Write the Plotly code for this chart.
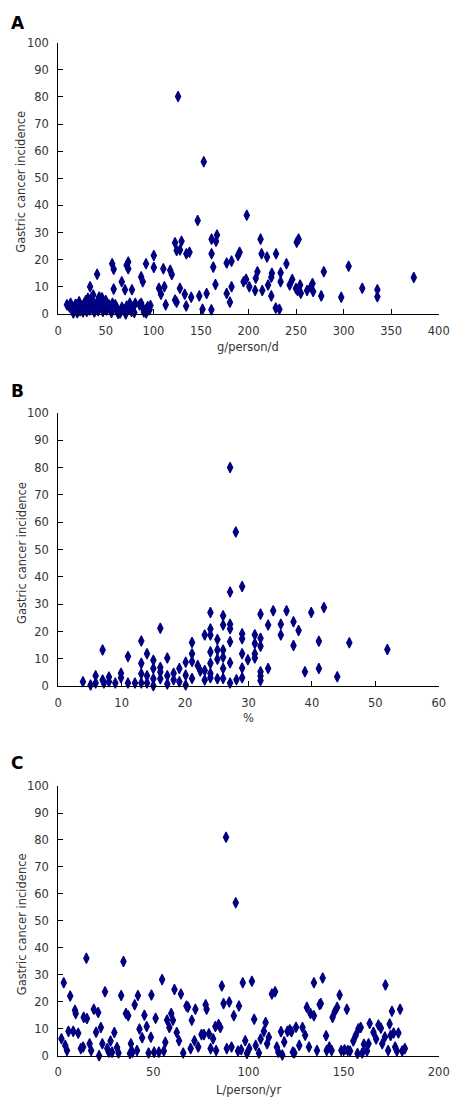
import plotly.graph_objects as go

# ---------------- Data ----------------
# Panel A: x = g/person/d, y = gastric cancer incidence
a_x = [126, 153, 146.6, 198.2,
       122.8, 129.6, 124.5, 128, 134.7, 138,
       161.2, 166.9, 165.9, 161.2, 163, 165.3, 161, 156, 148.3, 151.7, 139.8, 133, 127.9, 124.5, 122.8, 134.5,
       113, 108, 111.6, 105.9, 110.5, 117.7, 119.4, 100.5, 100.5, 92.3, 87.2, 88.9, 92.3, 94, 92.5, 87.2, 85.5,
       77.5, 73.6, 73.6, 71.9, 70.2, 66.8, 58.3, 56.7, 58.3, 40.9, 33.5, 36.8, 43.1,
       177.1, 177.1, 182.2, 182.2, 180.5, 189, 190.7,
       212.7, 213.8, 219.5, 229, 239.9, 250.7, 252.7, 224.6, 224, 233.8, 233.8, 246, 243.3, 209.4, 207.7,
       197.5, 194.8, 200.9, 207, 214.5, 220.6, 224, 228.7, 232.5, 249.9, 254.3, 255, 251.6, 261.6, 265.6,
       267.3, 268, 276.5, 279.2, 297.5, 305.3, 319.6, 335.5, 335.5, 373.8,
       9.2, 14.2, 15.9, 19.3, 24.4, 27.5, 31.2, 38, 44.8, 48.2, 53.3, 55, 61.7, 65.1, 75.3, 77,
       12, 13, 17, 18, 20, 21, 22, 23, 25, 26, 28, 29, 30, 32, 33, 34, 35, 36, 38, 40, 41, 42, 45, 46,
       47, 49, 50, 51, 52, 56, 57, 58, 60, 62, 63, 67, 69, 71, 72, 74, 79, 80, 81, 89, 90, 96, 97]
a_y = [80.1, 56.1, 34.5, 36.4,
       26.3, 26.8, 23.4, 23.6, 22.2, 22.8,
       27.6, 29.1, 26.8, 22.2, 17.3, 10.9, 1.6, 7.6, 6.7, 1.8, 6.2, 7.3, 9.5, 4.4, 5.2, 3,
       3.4, 7.3, 10.1, 9.5, 16.7, 16.1, 14.6, 21.6, 17.2, 18.5, 13.7, 11.9, 1.6, 2.8, 0.4, 4, 3.4,
       9, 19.2, 16.7, 18, 9, 11.9, 9.2, 18.5, 16.5, 14.7, 10.1, 7, 6.3,
       18.8, 7.6, 19.5, 10.1, 4.4, 21.6, 22.8,
       27.6, 22.2, 21.0, 22.2, 18.5, 26.5, 27.6, 15.0, 13.6, 15.2, 11.9, 12.7, 10.7, 15.6, 13.2,
       12.8, 11.9, 10.1, 8.7, 8.7, 10.7, 6.7, 2.2, 1.8, 9.4, 10.7, 7.7, 8.7, 8.7, 10.1,
       11.3, 8.3, 6.7, 15.6, 6.2, 17.6, 9.5, 9, 6.4, 13.5,
       3.4, 2.8, 0.4, 3.4, 2.2, 4, 5.8, 3.4, 4, 2.2, 3.4, 1.6, 2.2, 0.4, 4, 1,
       2.5, 4, 1.5, 3.5, 0.5, 2, 4.5, 1.2, 3, 0.8, 2, 5, 1, 3, 1.5, 4, 6, 2, 0.8, 2.5, 4.5, 1.2, 2.8, 6,
       1, 3.5, 5, 1.5, 2.8, 0.6, 4, 2, 3.4, 1.2, 0.2, 2.5, 1.5, 0, 3, 1.8, 2.6, 0.6, 4, 2.2, 0.8, 1.6, 3.2]

# Panel B: x = %, y = gastric cancer incidence
b_x = [27.1, 28, 29, 27.1,
       31.9, 33.9, 36, 39.9, 41.9, 33.1, 35.1, 37.1, 37.9, 35.1, 31, 31, 31.9, 31.9, 37.1, 41.1, 45.9, 51.9,
       29.9, 31, 31, 31.9, 31.9, 31.9, 33.1, 38.9, 41.1, 44,
       3.9, 5.1, 5.9, 5.9, 7, 7.2, 7, 8, 8, 9, 9.9, 9.9, 11, 11, 12.1, 13.1, 13.1, 13.1, 13.1, 14, 14, 14,
       15, 15, 15, 15, 16.1, 16.1, 16.1, 16.1, 17.2, 17.2, 17.2, 18.2, 18.2, 19.1, 19.1, 20.1, 20.1, 20.1,
       21.1, 21.1, 21.1, 21.1, 22, 23.1, 23.1, 23.1, 24, 24, 24, 24, 24, 24, 24, 25.1, 25.1, 25.1, 25.1,
       26, 26, 26, 26, 26, 27.1, 27.1, 27.1, 27.1, 27.1, 28.1, 29, 29, 29, 29, 29, 26, 22.4]
b_y = [80, 56.4, 36.5, 34.5,
       26.4, 27.6, 27.6, 27, 28.8, 22.4, 22.7, 23.6, 20.4, 18.8, 18.9, 15.7, 17.6, 14.7, 14.9, 16.5, 15.9, 13.5,
       9.7, 11.9, 10.4, 5.3, 3.8, 2.1, 6.5, 5.3, 6.5, 3.5,
       1.7, 0.5, 3.9, 1.2, 2.3, 1.2, 13.3, 3.4, 1.7, 1.2, 4.8, 3.1, 10.9, 1.2, 1.2, 16.6, 8.4, 4.6, 1.2, 11.9, 3.9, 1.2,
       9.5, 6.5, 2.8, 0.2, 21.2, 6.9, 5.2, 2.8, 10.4, 3.9, 0.9, 4.8, 2.4, 6.5, 1.7, 8.8, 4.1, 0.5,
       16, 11.9, 9.1, 2.9, 7.6, 18.8, 5.8, 2.3, 27, 21, 18.8, 12.6, 8.4, 4.7, 3.1, 17.1, 13.3, 9.9, 2.8,
       25.8, 22.4, 13.3, 6.5, 2.9, 22.7, 21.1, 16.3, 8.6, 1.2, 2.4, 19.2, 17.4, 11.9, 6.7, 3.1, 10.6, 5.6]

# Panel C: x = L/person/yr, y = gastric cancer incidence
c_x = [88.2, 93.3,
       1.7, 2.9, 3.7, 4.6, 5.4, 6.3, 7.9, 8.8, 9.2, 10.5, 11.9, 13.1, 13.4, 14.8, 15.1, 16.5, 17.3, 18.7, 19.9,
       21, 21.5, 22.4, 23.2, 24.6, 25.8, 26.6, 27.5, 28.3, 29.5, 30.9, 31.7, 33.1, 34.3, 35.6, 36.8, 37.7, 38.2,
       39, 40.2, 41.4, 41.9, 42.7, 44.1, 45.3, 46.5, 47.5, 48.7, 49, 50.4, 51.2, 52.9, 54.6, 55.5, 56.3, 57.2,
       58.4, 59.4, 60.3, 61.1, 62.3, 63.5, 64.5, 65.7, 67.4, 68.2, 69.6, 70.2, 71.6, 72.1, 73.6, 75.3, 76.6,
       77.5, 78, 79.2, 80.1, 81.4, 82.6, 83, 84.3, 85.2, 86, 86.9, 88.6, 89.9, 91.1, 92.3, 94.5, 95, 96.2, 97,
       98.3, 99.2, 100.4, 101.8, 103,
       103.8, 105.5, 106.4, 108.1, 109, 109.8, 110.7, 112.3, 114, 114.9, 115.7, 117.1, 117.8, 118.8, 120.5,
       121.7, 122.6, 123.3, 124.1, 125, 126.7, 128.4, 129.8, 130.7, 131.8, 132.6, 134.4, 134.4, 136, 137.4,
       138, 139, 140.8, 141.1, 142.5, 143.7, 144.2, 145.4, 146.6, 147.9, 148.8, 150.5, 151.7, 152.2, 153.4,
       155.1, 156.4, 157.3, 157.8, 159, 159.8, 160.7, 162.3, 163.1, 163.7, 165.7, 167.1, 168.3, 169.6, 170.3,
       172, 171.7, 173.4, 174.2, 174.7, 175.4, 176.3, 177.1, 178, 178.8, 179.7, 180.8, 182.2]
c_y = [81, 56.7,
       6.3, 27, 3.8, 1.9, 9.0, 22.1, 9.0, 16.8, 15.6, 8.3, 2.6, 3.2, 14.2, 36.1, 13.8, 4.4, 1.9, 17.2, 8.7,
       16, 0, 10.4, 4.4, 23.7, 2.6, 1.3, 5.4, 1.3, 8.6, 3.0, 1.0, 22.3, 34.9, 15.6, 14.8, 0.8, 4.4,
       1.3, 18.9, 1.9, 22.3, 9.9, 6.6, 15.0, 10.8, 1.0, 6.8, 22.5, 1.3, 13.9, 1.3, 28.2, 1.7, 5, 13.2,
       10.4, 15.6, 13.1, 24.5, 8.6, 5.5, 22.9, 1.0, 18.4, 18, 2.6, 13.1, 5.5, 17.2, 3.2, 7.8, 7.8,
       18.9, 17.2, 8.1, 2.6, 6.3, 10.8, 1.9, 11.5, 10.4, 25.8, 19.3, 2.6, 19.9, 3.2, 14.8, 1.7, 18.4, 2.2, 27,
       5.5, 0.8, 2.6, 27.6, 13.5,
       3.8, 1.0, 6.2, 9.0, 12.3, 4.4, 6.8, 22.9, 23.7, 3.2, 1.3, 8.9, 0.2, 5.1, 9.0,
       9.6, 8.9, 1.3, 1.0, 10.5, 3.8, 10.4, 7.6, 17.9, 3.2, 15.6, 14.8, 27, 1.9, 19.0,
       19.3, 28.8, 7.4, 1.9, 3.2, 1.9, 14.2, 16.4, 17.9, 22.5, 1.9, 2.2, 17.2, 1.9, 1.7,
       5.4, 7.6, 0.8, 10, 10.4, 1.0, 4.2, 1.7, 4.4, 11.9, 8.7, 6.2, 11.4, 10.2, 4.4,
       26.2, 6.9, 1.9, 11.7, 7.5, 16.5, 8.4, 3.2, 1.7, 8.4, 17.2, 1.7, 2.6]

y_ticks = [0, 10, 20, 30, 40, 50, 60, 70, 80, 90, 100]
a_ticks = [0, 50, 100, 150, 200, 250, 300, 350, 400]
b_ticks = [0, 10, 20, 30, 40, 50, 60]
c_ticks = [0, 50, 100, 150, 200]
x_titles = ["g/person/d", "%", "L/person/yr"]
panel_labels = ["A", "B", "C"]
y_title = "Gastric cancer incidence"

# ---------------- Layout geometry ----------------
W, H = 472, 1112
x_left, x_right = 56, 449
panels_px = [(36, 311), (411, 688), (789, 1062)]  # (top, bottom) pixel rows
letter_px = [16, 389, 766]
xtitle_px = [344, 720, 1097]

def py(p):
    return 1 - p / H

FONT = "DejaVu Sans"
MARK = dict(symbol="diamond-tall", size=7.5, color="#000080",
            line=dict(color="#000080", width=1.2))

fig = go.Figure()
datasets = [(a_x, a_y), (b_x, b_y), (c_x, c_y)]
for i, (xs, ys) in enumerate(datasets):
    sfx = "" if i == 0 else str(i + 1)
    fig.add_trace(go.Scatter(x=xs, y=ys, mode="markers", marker=MARK,
                             xaxis="x" + sfx, yaxis="y" + sfx,
                             cliponaxis=False, showlegend=False, hoverinfo="x+y"))

axis_common = dict(showline=True, linecolor="black", linewidth=1, ticks="inside",
                   ticklen=5, tickcolor="black", tickwidth=1, showgrid=False, zeroline=False,
                   tickfont=dict(family=FONT, size=11.5, color="#333333"),
                   ticklabelstandoff=6)

xranges = [[0, 400], [0, 60], [0, 200]]
xticks = [a_ticks, b_ticks, c_ticks]
layout = dict(width=W, height=H, margin=dict(l=0, r=0, t=0, b=0),
              paper_bgcolor="white", plot_bgcolor="white", showlegend=False,
              font=dict(family=FONT, color="#333333"))
annotations = []
for i in range(3):
    sfx = "" if i == 0 else str(i + 1)
    top, bot = panels_px[i]
    layout["xaxis" + sfx] = dict(axis_common, domain=[x_left / W, x_right / W],
                                 range=xranges[i], tickvals=xticks[i],
                                 anchor="y" + sfx)
    layout["yaxis" + sfx] = dict(axis_common, domain=[py(bot), py(top)],
                                 range=[0, 100], tickvals=y_ticks,
                                 anchor="x" + sfx)
    annotations.append(dict(text=panel_labels[i], x=6 / W, y=py(letter_px[i]),
                            xref="paper", yref="paper", xanchor="left", yanchor="middle",
                            showarrow=False, borderpad=0,
                            font=dict(family=FONT, size=17, color="black", weight="bold")))
    annotations.append(dict(text=y_title, x=18 / W, y=py((top + bot) / 2 + 3),
                            xref="paper", yref="paper", xanchor="center", yanchor="middle",
                            textangle=-90, showarrow=False,
                            font=dict(family=FONT, size=11.5, color="#333333")))
    annotations.append(dict(text=x_titles[i], x=(x_left + x_right) / 2 / W, y=py(xtitle_px[i]),
                            xref="paper", yref="paper", xanchor="center", yanchor="middle",
                            showarrow=False,
                            font=dict(family=FONT, size=11.5, color="#333333")))
layout["annotations"] = annotations
fig.update_layout(**layout)
fig.write_html("out.html", config={"displayModeBar": False},
               post_script="document.body.style.margin='0';document.body.style.overflow='hidden';")
